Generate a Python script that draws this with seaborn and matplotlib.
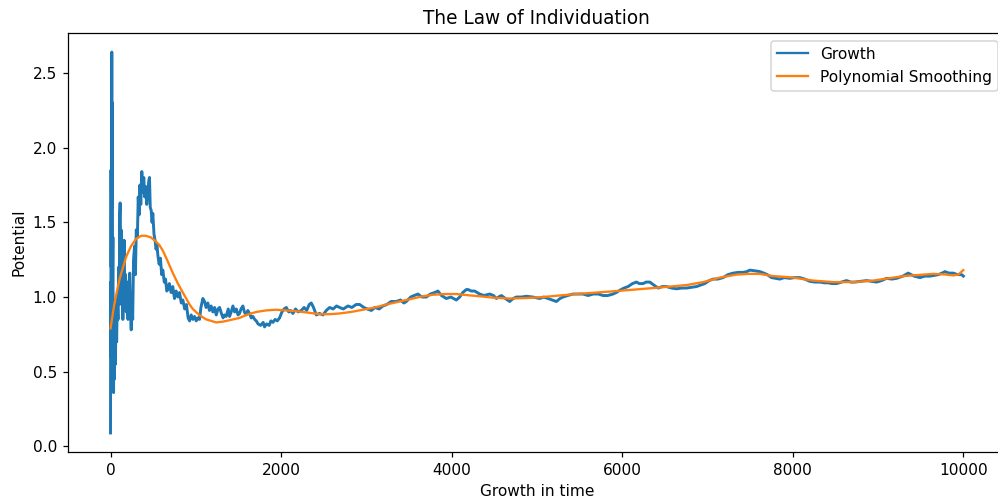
import numpy as np
import matplotlib
matplotlib.use("Agg")
import matplotlib.pyplot as plt
import pandas as pd
import seaborn as sns

# Growth series (time step, potential)
growth_x = [0, 2, 4, 6, 9, 12, 15, 18, 21, 24, 28, 32, 36, 40, 45, 52, 58, 65, 72, 80,
            88, 95, 102, 108, 113, 118, 124, 130, 138, 145, 152, 160, 168, 176, 185, 195,
            205, 215, 225, 235, 243, 250, 260, 270, 282, 292, 302, 315, 325, 335, 345,
            355, 367, 379, 390, 400, 412, 425, 440, 449, 457, 466, 477, 487, 496, 510,
            522, 534, 545, 555, 570, 585, 600, 614, 630, 645, 660, 672, 690, 711, 730,
            750, 770, 790, 809, 830, 848, 870, 890, 910, 927, 946, 966, 985, 1005, 1024,
            1044, 1060, 1083, 1103, 1120, 1141, 1160, 1180, 1200, 1220, 1240, 1260, 1279,
            1300, 1320, 1337, 1357, 1380, 1396, 1415, 1435, 1455, 1475, 1495, 1513, 1530,
            1552, 1570, 1590, 1610, 1630, 1650, 1670, 1690, 1709, 1730, 1760, 1790, 1806,
            1830, 1860, 1880, 1904, 1930, 1955, 1982, 2010, 2035, 2061, 2090, 2110, 2139,
            2170, 2200, 2237, 2270, 2300, 2330, 2354, 2380, 2413, 2450, 2491, 2530, 2569,
            2610, 2650, 2686, 2730, 2784, 2830, 2880, 2921, 2970, 3010, 3058, 3100, 3150,
            3194, 3240, 3290, 3351, 3400, 3440, 3468, 3520, 3560, 3605, 3650, 3703, 3750,
            3800, 3839, 3880, 3937, 3990, 4055, 4094, 4130, 4172, 4192, 4230, 4270, 4300,
            4328, 4380, 4446, 4490, 4524, 4550, 4583, 4630, 4680, 4720, 4759, 4820, 4876,
            4950, 5032, 5080, 5130, 5180, 5228, 5270, 5306, 5360, 5423, 5480, 5540, 5600,
            5658, 5720, 5775, 5830, 5892, 5930, 5970, 6020, 6068, 6120, 6166, 6200, 6244,
            6280, 6323, 6370, 6420, 6470, 6518, 6580, 6635, 6700, 6753, 6810, 6870, 6920,
            6968, 7020, 7065, 7120, 7183, 7240, 7300, 7360, 7417, 7460, 7496, 7560, 7613,
            7660, 7700, 7750, 7800, 7847, 7900, 7965, 8020, 8082, 8140, 8199, 8260, 8317,
            8370, 8414, 8460, 8512, 8570, 8629, 8680, 8727, 8800, 8864, 8920, 8981, 9040,
            9099, 9160, 9216, 9290, 9353, 9420, 9490, 9550, 9607, 9660, 9705, 9750, 9783,
            9830, 9881, 9930, 9979, 9999]
growth_y = [0.09, 1.10, 0.60, 1.85, 1.20, 1.75, 2.64, 1.60, 2.30, 1.10, 1.40, 0.70, 0.36,
            0.90, 0.45, 0.85, 0.55, 0.95, 0.70, 1.00, 0.85, 1.20, 0.95, 1.55, 1.63, 1.10,
            1.45, 0.95, 1.30, 0.85, 1.20, 1.38, 1.00, 1.15, 0.90, 1.10, 0.85, 1.05, 1.16,
            0.90, 0.78, 1.00, 0.85, 1.25, 1.34, 1.15, 1.45, 1.40, 1.67, 1.55, 1.75, 1.62,
            1.84, 1.70, 1.80, 1.67, 1.74, 1.62, 1.72, 1.78, 1.80, 1.60, 1.58, 1.50, 1.56,
            1.42, 1.38, 1.32, 1.35, 1.28, 1.22, 1.26, 1.15, 1.18, 1.10, 1.12, 1.04, 1.05,
            1.09, 1.03, 1.07, 0.99, 1.04, 1.00, 1.03, 0.96, 0.98, 0.92, 0.95, 0.86, 0.84,
            0.88, 0.85, 0.87, 0.84, 0.86, 0.85, 0.93, 0.99, 0.97, 0.93, 0.96, 0.91, 0.94,
            0.90, 0.93, 0.88, 0.92, 0.93, 0.89, 0.86, 0.88, 0.87, 0.92, 0.87, 0.90, 0.94,
            0.90, 0.92, 0.88, 0.89, 0.92, 0.94, 0.90, 0.88, 0.91, 0.89, 0.86, 0.87, 0.85,
            0.84, 0.82, 0.81, 0.83, 0.80, 0.82, 0.81, 0.84, 0.83, 0.85, 0.84, 0.86, 0.90,
            0.92, 0.93, 0.90, 0.91, 0.89, 0.92, 0.90, 0.91, 0.93, 0.91, 0.95, 0.96, 0.93,
            0.88, 0.89, 0.88, 0.91, 0.93, 0.92, 0.94, 0.93, 0.92, 0.94, 0.93, 0.95, 0.95,
            0.93, 0.92, 0.91, 0.93, 0.92, 0.94, 0.95, 0.97, 0.97, 0.98, 0.96, 0.97, 1.00,
            1.01, 1.02, 1.00, 1.00, 1.02, 1.03, 1.04, 1.01, 0.99, 1.00, 0.98, 1.00, 1.03,
            1.05, 1.05, 1.04, 1.04, 1.03, 1.02, 1.01, 1.02, 1.01, 0.99, 1.00, 1.01, 0.99,
            0.97, 0.99, 1.00, 1.00, 1.005, 1.00, 0.99, 1.00, 0.99, 0.98, 0.97, 0.99, 1.00,
            1.01, 1.02, 1.02, 1.02, 1.01, 1.02, 1.02, 1.01, 1.01, 1.02, 1.03, 1.045, 1.06,
            1.07, 1.09, 1.10, 1.09, 1.09, 1.10, 1.10, 1.08, 1.06, 1.07, 1.07, 1.06, 1.055,
            1.06, 1.06, 1.065, 1.07, 1.08, 1.09, 1.11, 1.12, 1.12, 1.13, 1.15, 1.16, 1.165,
            1.165, 1.17, 1.18, 1.175, 1.17, 1.16, 1.15, 1.13, 1.125, 1.12, 1.13, 1.125,
            1.13, 1.13, 1.12, 1.105, 1.10, 1.10, 1.095, 1.095, 1.09, 1.09, 1.10, 1.11,
            1.10, 1.10, 1.105, 1.11, 1.105, 1.10, 1.11, 1.125, 1.12, 1.125, 1.14, 1.16,
            1.14, 1.13, 1.14, 1.14, 1.145, 1.15, 1.16, 1.17, 1.16, 1.16, 1.15, 1.15, 1.14]

# Polynomial smoothing curve
smooth_x = [0, 47, 106, 184, 240, 301, 360, 411, 470, 516, 570, 614, 670, 731, 790, 848,
            927, 965, 1040, 1122, 1239, 1317, 1396, 1513, 1591, 1709, 1820, 1943, 2060,
            2178, 2320, 2452, 2570, 2686, 2820, 2960, 3100, 3234, 3390, 3546, 3660, 3781,
            3920, 4055, 4190, 4328, 4500, 4680, 4870, 5071, 5260, 5462, 5700, 5931, 6150,
            6361, 6560, 6753, 6950, 7144, 7339, 7480, 7613, 7769, 7900, 8004, 8120, 8238,
            8360, 8473, 8590, 8707, 8830, 8942, 9060, 9177, 9300, 9412, 9530, 9646, 9760,
            9881, 9940, 9979, 9999]
smooth_y = [0.79, 0.96, 1.12, 1.27, 1.34, 1.39, 1.41, 1.41, 1.40, 1.38, 1.35, 1.31, 1.24,
            1.16, 1.09, 1.03, 0.95, 0.92, 0.88, 0.85, 0.83, 0.835, 0.845, 0.86, 0.88, 0.90,
            0.91, 0.915, 0.91, 0.905, 0.895, 0.885, 0.885, 0.89, 0.90, 0.915, 0.93, 0.95,
            0.97, 0.99, 1.005, 1.015, 1.02, 1.02, 1.012, 1.005, 0.995, 0.99, 0.993, 1.00,
            1.01, 1.02, 1.03, 1.04, 1.05, 1.06, 1.07, 1.08, 1.10, 1.13, 1.15, 1.155, 1.155,
            1.14, 1.135, 1.13, 1.12, 1.11, 1.105, 1.10, 1.10, 1.10, 1.105, 1.11, 1.12, 1.13,
            1.14, 1.145, 1.15, 1.155, 1.152, 1.145, 1.15, 1.17, 1.18]

growth = pd.DataFrame({"t": growth_x, "v": growth_y})
smooth = pd.DataFrame({"t": smooth_x, "v": smooth_y})

# reference was rendered a bit larger than 100 dpi, so scale everything up
dpi = 111
fig = plt.figure(figsize=(998 / dpi, 502 / dpi), dpi=dpi)
ax = fig.add_axes([0.068, 0.0996, 0.94, 0.8347])

sns.lineplot(data=growth, x="t", y="v", ax=ax, color="#1f77b4", linewidth=1.9,
             label="Growth", sort=False)
sns.lineplot(data=smooth, x="t", y="v", ax=ax, color="#ff7f0e", linewidth=1.5,
             label="Polynomial Smoothing", sort=False)

ax.set_title("The Law of Individuation")
ax.set_xlabel("Growth in time")
ax.set_ylabel("Potential")
ax.set_xticks([0, 2000, 4000, 6000, 8000, 10000])
ax.set_yticks([0.0, 0.5, 1.0, 1.5, 2.0, 2.5])
leg = ax.legend(loc="upper right")
for h in leg.get_lines():
    h.set_linewidth(1.5)

fig.savefig("out.png", dpi=dpi)
